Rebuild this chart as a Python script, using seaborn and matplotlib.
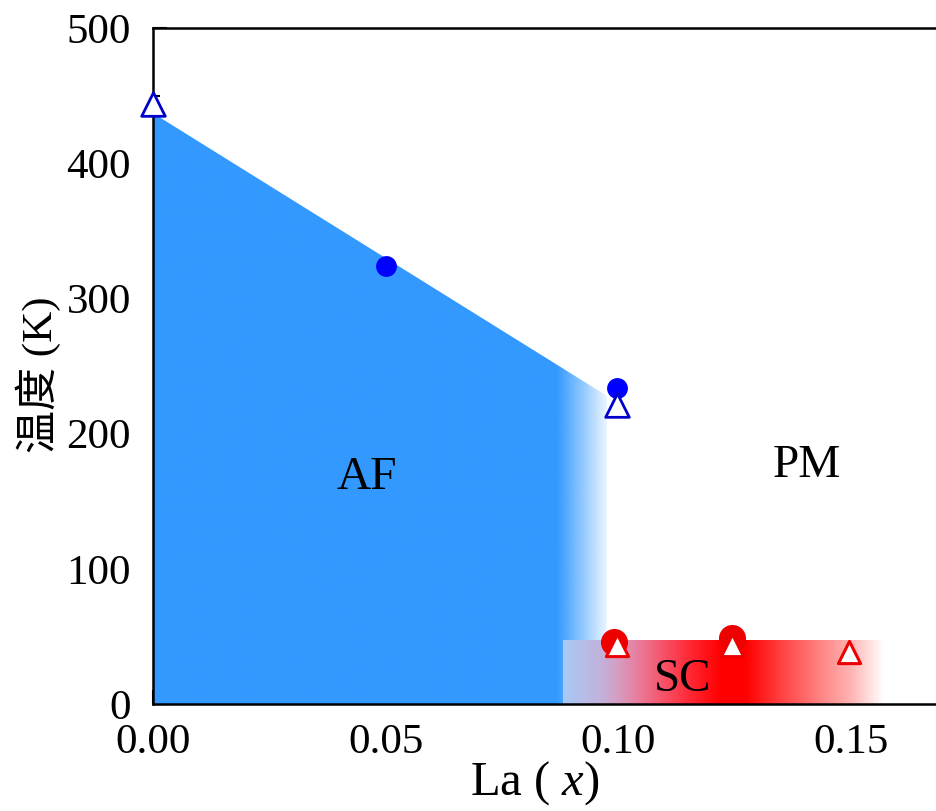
import numpy as np
import matplotlib
matplotlib.use("Agg")
import matplotlib.pyplot as plt
import seaborn as sns
from matplotlib.colors import LinearSegmentedColormap, to_rgb
from matplotlib.patches import Polygon

# ---- data -------------------------------------------------------------
# AF transition: neutron (open triangles) and transport (filled circles)
af_tri_x = [0.0, 0.0997]
af_tri_T = [444, 221]
af_dot_x = [0.05, 0.0997]
af_dot_T = [324, 234]

# superconducting Tc: transport (circles) and magnetisation (triangles)
sc_dot_x = [0.099, 0.1245]
sc_dot_T = [46, 49]
sc_tri_x = [0.0997, 0.1245, 0.1496]
sc_tri_T = [44, 44, 38.5]

# phase boundaries
af_edge_x = [0.0, 0.0975]
af_edge_T = [437, 228]
sc_dome_x = [0.088, 0.157]
sc_dome_T = 47

x_ticks = [0.00, 0.05, 0.10, 0.15]
x_ticklabels = ["0.00", "0.05", "0.10", "0.15"]
y_ticks = [0, 100, 200, 300, 400, 500]

phase_labels = ["AF", "PM", "SC"]
phase_label_x = [0.046, 0.1405, 0.1137]
phase_label_T = [167, 176, 18]

# ---- style ------------------------------------------------------------
sns.set_theme(style="ticks")
plt.rcParams.update({
    "font.family": ["Liberation Serif", "Noto Sans CJK SC"],
    "mathtext.fontset": "custom",
    "mathtext.rm": "Liberation Serif",
    "mathtext.it": "Liberation Serif:italic",
    "xtick.direction": "in",
    "ytick.direction": "in",
    "axes.linewidth": 1.8,
    "axes.edgecolor": "black",
    "text.color": "black",
    "axes.labelcolor": "black",
    "xtick.color": "black",
    "ytick.color": "black",
    "xtick.labelcolor": "black",
    "ytick.labelcolor": "black",
})

AF_BLUE = "#3399FF"

fig = plt.figure(figsize=(9.36, 8.11), dpi=100)
ax = fig.add_axes([153 / 936, 107 / 811, 783 / 936, 676 / 811])

# ---- AF region: solid blue fading out towards the boundary -------------
nx = 600
xs = np.linspace(af_edge_x[0], af_edge_x[1], nx)
fade_start, fade_end = 0.0868, 0.0988
alpha = np.clip((fade_end - xs) / (fade_end - fade_start), 0, 1)
af_img = np.zeros((2, nx, 4))
af_img[..., :3] = to_rgb(AF_BLUE)
af_img[..., 3] = alpha
im_af = ax.imshow(af_img, extent=[af_edge_x[0], af_edge_x[1], 0, af_edge_T[0]],
                  aspect="auto", origin="lower", interpolation="bilinear", zorder=1)
af_poly = Polygon([(af_edge_x[0], 0), (af_edge_x[0], af_edge_T[0]),
                   (af_edge_x[1], af_edge_T[1]), (af_edge_x[1], 0)],
                  closed=True, facecolor="none", edgecolor="none",
                  transform=ax.transData)
ax.add_patch(af_poly)
im_af.set_clip_path(af_poly)

# ---- SC dome: horizontal colour gradient ------------------------------
sc_nodes = [0.0879, 0.0960, 0.1003, 0.1046, 0.1089, 0.1154,
            0.1218, 0.1272, 0.1347, 0.1433, 0.1498, 0.1569]
sc_cols = [(0.66, 0.79, 0.96), (0.76, 0.70, 0.86), (0.85, 0.60, 0.74),
           (0.92, 0.47, 0.59), (0.96, 0.34, 0.43), (1.0, 0.15, 0.20),
           (1.0, 0.0, 0.0), (1.0, 0.0, 0.0), (1.0, 0.25, 0.25),
           (1.0, 0.52, 0.52), (1.0, 0.70, 0.70), (1.0, 1.0, 1.0)]
lo, hi = sc_nodes[0], sc_nodes[-1]
sc_cmap = LinearSegmentedColormap.from_list(
    "sc", [((v - lo) / (hi - lo), c) for v, c in zip(sc_nodes, sc_cols)])
xs_sc = np.linspace(sc_dome_x[0], sc_dome_x[1], nx)
sc_img = sc_cmap((xs_sc - lo) / (hi - lo))[None, :, :].repeat(2, axis=0)
ax.imshow(sc_img, extent=[sc_dome_x[0], sc_dome_x[1], 0, sc_dome_T],
          aspect="auto", origin="lower", interpolation="bilinear", zorder=2)

# ---- phase labels -----------------------------------------------------
for lab, lx, ly in zip(phase_labels, phase_label_x, phase_label_T):
    ax.text(lx, ly, lab, fontsize=34, ha="center", va="center", zorder=4,
            color="black")

# ---- data points ------------------------------------------------------
sns.scatterplot(x=af_tri_x, y=af_tri_T, marker="^", s=17 ** 2, color="white",
                edgecolor="#0000CC", linewidth=2, ax=ax, zorder=6, clip_on=False)
sns.scatterplot(x=af_dot_x, y=af_dot_T, marker="o", s=15 ** 2, color="#0000FF",
                edgecolor="#0000FF", linewidth=0, ax=ax, zorder=5)
sns.scatterplot(x=sc_dot_x, y=sc_dot_T, marker="o", s=19.5 ** 2, color="#EE0000",
                edgecolor="#EE0000", linewidth=0, ax=ax, zorder=5)
sns.scatterplot(x=sc_tri_x, y=sc_tri_T, marker="^", s=16 ** 2, color="white",
                edgecolor="#EE0000", linewidth=2.2, ax=ax, zorder=6)

# ---- axes -------------------------------------------------------------
ax.set_xlim(0, 783 / 4654)
ax.set_ylim(0, 500)
ax.set_xticks(x_ticks)
ax.set_xticklabels(x_ticklabels)
ax.set_yticks(y_ticks)
ax.set_xticks([0.025, 0.075, 0.125], minor=True)
ax.set_yticks([50, 150, 250, 350, 450], minor=True)
ax.tick_params(which="major", length=10, width=1.5, labelsize=31, colors="black")
ax.tick_params(which="minor", length=5, width=1.5, colors="black")
ax.tick_params(axis="x", which="major", pad=14)
ax.tick_params(axis="y", which="major", pad=16)
ax.spines["right"].set_visible(False)
ax.spines["top"].set_visible(True)
ax.set_facecolor("white")

ax.set_xlabel("La ( $x$)", fontsize=35)
ax.xaxis.set_label_coords(0.487, -0.082)
ax.set_ylabel("温度 (K)", fontsize=31)
ax.yaxis.set_label_coords(-0.118, 0.487)

fig.savefig("out.png", dpi=100, facecolor="white")
